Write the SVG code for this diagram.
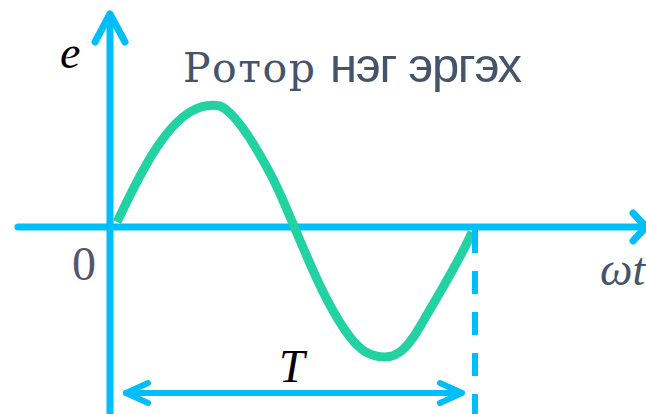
<svg xmlns="http://www.w3.org/2000/svg" width="646" height="414" viewBox="0 0 646 414">
<style>
.ax{stroke:#00BEF9;stroke-width:7;fill:none;stroke-linecap:round;stroke-linejoin:round}
.dash{stroke:#00BEF9;stroke-width:6;fill:none;stroke-dasharray:23 18}
.dim{stroke:#00BEF9;stroke-width:6;fill:none;stroke-linecap:round;stroke-linejoin:round}
.wave{stroke:#22D2A2;stroke-width:9;fill:none;stroke-linejoin:round}
.math{font-family:"Liberation Serif",serif;font-style:italic;font-size:46px}
</style>
<rect width="646" height="414" fill="#FFFFFF"/>
<g id="axes">
  <line class="ax" x1="110" y1="16" x2="110" y2="420"/>
  <polyline class="ax" points="95,42 110,14 125,42"/>
  <line class="ax" x1="18" y1="227" x2="644" y2="227"/>
  <polyline class="ax" points="633,213 646,227 633,241"/>
</g>
<g id="curve">
  <path class="wave" d="M117,222 C135,185 160,130 190,112 C200,106 210,104 220,106 C235,112 255,145 270,173 C283,197 295,230 305,252 C318,283 333,315 350,337 C360,350 370,357 385,357 C400,357 410,345 425,318 C440,292 460,260 472,232"/>
</g>
<g id="connectors">
  <line class="dash" x1="475" y1="230" x2="475" y2="420"/>
  <line class="dim" x1="126" y1="393" x2="461" y2="393"/>
  <polyline class="dim" points="148,383 126,393 148,403"/>
  <polyline class="dim" points="440,383 462,393 440,403"/>
</g>
<g id="title">
  <text x="183" y="82" font-family="DejaVu Serif, serif" font-size="41" fill="#44546A" textLength="132" lengthAdjust="spacing">Ротор</text>
  <text x="330" y="82" font-family="Liberation Sans, Arial, sans-serif" font-size="49" fill="#44546A" textLength="192" lengthAdjust="spacing">нэг эргэх</text>
</g>
<g id="labels">
  <text class="math" x="60" y="68" fill="#000000">e</text>
  <text x="72" y="280" font-family="Liberation Serif, serif" font-size="48" fill="#55556F">0</text>
  <text class="math" x="600" y="285" fill="#44546A">ωt</text>
  <text class="math" x="279" y="382" fill="#000000">T</text>
</g>
</svg>
